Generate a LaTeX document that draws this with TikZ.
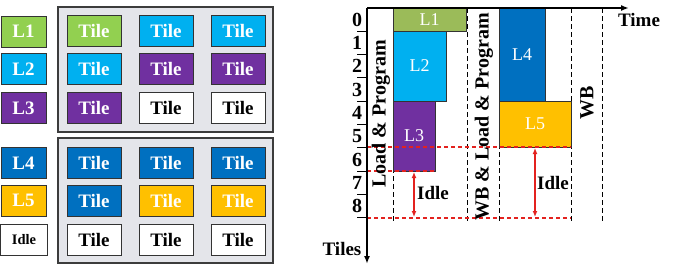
\documentclass[tikz,border=0pt]{standalone}
\usepackage{fontspec}
\setmainfont{Liberation Serif}
\usetikzlibrary{arrows.meta}
\definecolor{lgreen}{HTML}{92D050}
\definecolor{mgreen}{HTML}{9BBB59}
\definecolor{lblue}{HTML}{00B0F0}
\definecolor{vpurple}{HTML}{7030A0}
\definecolor{dblue}{HTML}{0070C0}
\definecolor{vgold}{HTML}{FFC000}
\definecolor{panelfill}{HTML}{E4E5EA}
\definecolor{panelborder}{HTML}{3C3C3C}
\definecolor{boxborder}{HTML}{333333}
\definecolor{vred}{HTML}{E3221F}
\begin{document}
\begin{tikzpicture}[x=1pt,y=-1pt,
  panel/.style={draw=panelborder, fill=panelfill, line width=1.5pt, minimum width=215pt, minimum height=125pt, inner sep=0pt},
  tilebox/.style={draw=boxborder, line width=1pt, minimum width=54pt, minimum height=31pt, inner sep=0pt, font=\fontsize{19}{20}\selectfont\bfseries, text=white},
  legbox/.style={tilebox, minimum width=45pt},
  idlebox/.style={tilebox, fill=white, text=black},
  chartbox/.style={draw=boxborder, line width=1pt, inner sep=0pt, font=\fontsize{18}{19}\selectfont, text=white},
  lbl/.style={font=\fontsize{19}{20}\selectfont\bfseries, inner sep=0pt},
  vdash/.style={draw=black, line width=0.8pt, dash pattern=on 5pt off 3pt},
  rdash/.style={draw=vred, line width=1.3pt, dash pattern=on 4pt off 3pt},
  redarrow/.style={draw=vred, line width=1.3pt, {Latex[length=6pt,width=5pt]}-{Latex[length=6pt,width=5pt]}},
  axis/.style={draw=black, line width=1.6pt, -{Latex[length=8pt,width=6pt]}},
  tick/.style={draw=black, line width=1pt}
]
\useasboundingbox (0,0) rectangle (673,273);

% ---------- left: panels ----------
\node[panel] (ptop) at (165.5,69.5) {};
\node[panel] (pbot) at (165.5,200.5) {};

% legend
\node[legbox, fill=lgreen] (l1) at (23.5,31.5) {L1};
\node[legbox, fill=lblue] (l2) at (23.5,69) {L2};
\node[legbox, fill=vpurple] (l3) at (23.5,108) {L3};
\node[legbox, fill=dblue] (l4) at (23.5,163) {L4};
\node[legbox, fill=vgold] (l5) at (23.5,200.5) {L5};
\node[idlebox, minimum width=47pt, font=\fontsize{14.5}{15}\selectfont\bfseries] (lidle) at (24,239.5) {Idle};

% top tiles
\node[tilebox, fill=lgreen] (t11) at (94,31) {Tile};
\node[tilebox, fill=lblue] (t12) at (166,31) {Tile};
\node[tilebox, fill=lblue] (t13) at (238,31) {Tile};
\node[tilebox, fill=lblue] (t21) at (94,69) {Tile};
\node[tilebox, fill=vpurple] (t22) at (166,69) {Tile};
\node[tilebox, fill=vpurple] (t23) at (238,69) {Tile};
\node[tilebox, fill=vpurple] (t31) at (94,108) {Tile};
\node[idlebox] (t32) at (166,108) {Tile};
\node[idlebox] (t33) at (238,108) {Tile};

% bottom tiles
\node[tilebox, fill=dblue] (b11) at (94,162.5) {Tile};
\node[tilebox, fill=dblue] (b12) at (166,162.5) {Tile};
\node[tilebox, fill=dblue] (b13) at (238,162.5) {Tile};
\node[tilebox, fill=dblue] (b21) at (94,200.5) {Tile};
\node[tilebox, fill=vgold] (b22) at (166,200.5) {Tile};
\node[tilebox, fill=vgold] (b23) at (238,200.5) {Tile};
\node[idlebox] (b31) at (94,239.5) {Tile};
\node[idlebox] (b32) at (166,239.5) {Tile};
\node[idlebox] (b33) at (238,239.5) {Tile};

% ---------- right: chart ----------
% vertical dashed lines
\coordinate (d1t) at (393,8);  \coordinate (d1b) at (393,222);
\coordinate (d2t) at (467,8);  \coordinate (d2b) at (467,222);
\coordinate (d3t) at (499,8);  \coordinate (d3b) at (499,222);
\coordinate (d4t) at (571,8);  \coordinate (d4b) at (571,222);
\coordinate (d5t) at (602,8);  \coordinate (d5b) at (602,222);
\draw[vdash] (d1t) -- (d1b);
\draw[vdash] (d2t) -- (d2b);
\draw[vdash] (d3t) -- (d3b);
\draw[vdash] (d4t) -- (d4b);
\draw[vdash] (d5t) -- (d5b);

% boxes
\node[chartbox, fill=mgreen, minimum width=73pt, minimum height=23pt] (c1) at (429.5,19.5) {L1};
\node[chartbox, fill=lblue, minimum width=53pt, minimum height=70pt] (c2) at (419.5,66) {L2};
\node[chartbox, fill=vpurple, minimum width=42pt, minimum height=70pt] (c3) at (414,136) {L3};
\node[chartbox, fill=dblue, minimum width=46pt, minimum height=93pt] (c4) at (522,54.5) {L4};
\node[chartbox, fill=vgold, minimum width=72pt, minimum height=46pt] (c5) at (535,124) {L5};

% red dashed horizontals
\coordinate (r1a) at (367,147); \coordinate (r1b) at (571,147);
\coordinate (r2a) at (367,171); \coordinate (r2b) at (435,171);
\coordinate (r3a) at (367,218); \coordinate (r3b) at (571,218);
\draw[rdash] (r1a) -- (r1b);
\draw[rdash] (r2a) -- (r2b);
\draw[rdash] (r3a) -- (r3b);

% idle arrows
\coordinate (ia1) at (414,172); \coordinate (ib1) at (414,217);
\coordinate (ia2) at (535,148); \coordinate (ib2) at (535,217);
\draw[redarrow] (ia1) -- (ib1);
\draw[redarrow] (ia2) -- (ib2);
\node[lbl, anchor=west] (idle1) at (417,193) {Idle};
\node[lbl, anchor=west] (idle2) at (537,183) {Idle};

% axes
\coordinate (orig) at (367,8);
\coordinate (tend) at (629,8);
\coordinate (yend) at (367,264);
\draw[axis] (orig) -- (tend);
\draw[axis] (orig) -- (yend);
\node[lbl] (timel) at (639,20) {Time};
\node[lbl] (tilesl) at (342,249) {Tiles};

% ticks and numbers
\foreach \k in {1,...,9} {
  \draw[tick] (357,{8+23.33*\k}) -- (367,{8+23.33*\k});
}
\foreach \k in {0,...,8} {
  \node[lbl, font=\fontsize{20}{20}\selectfont\bfseries] (n\k) at (357,{19.7+23.33*\k}) {\k};
}

% rotated labels
\node[lbl, font=\fontsize{20}{20}\selectfont\bfseries, rotate=90] (lp1) at (381,114) {Load \& Program};
\node[lbl, font=\fontsize{20}{20}\selectfont\bfseries, rotate=90] (lp2) at (484,117) {WB \& Load \& Program};
\node[lbl, font=\fontsize{20}{20}\selectfont\bfseries, rotate=90] (wb) at (587,103) {WB};
\end{tikzpicture}
\end{document}
